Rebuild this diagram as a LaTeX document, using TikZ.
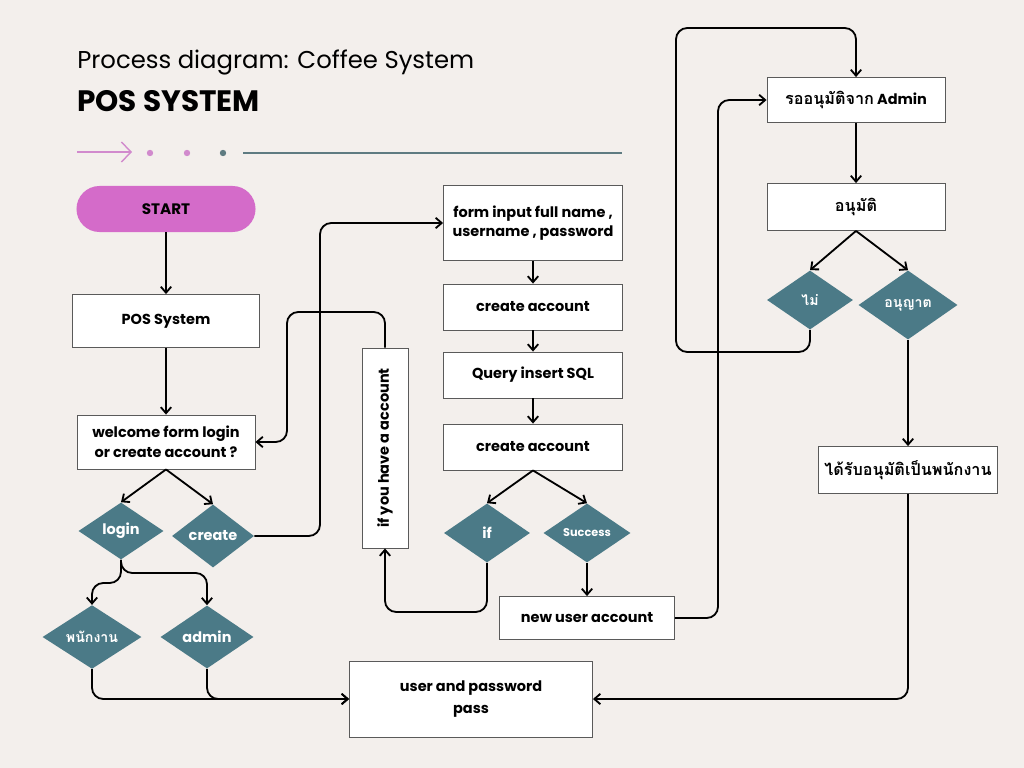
\documentclass[tikz,border=0pt]{standalone}
\usepackage{fontspec}
\setmainfont{Poppins}
\newfontfamily\thaifont[Script=Thai, Scale=1.12]{Loma}
\usetikzlibrary{shapes.geometric,arrows.meta}
\definecolor{bgcol}{HTML}{F3EFEC}
\definecolor{tealbox}{HTML}{4B7A87}
\definecolor{startpink}{HTML}{D46BC9}
\definecolor{arrowpink}{HTML}{D18ACD}
\definecolor{linegrey}{HTML}{5E7B81}
\definecolor{boxline}{HTML}{5A5A5A}

\begin{document}
\begin{tikzpicture}[
    x=0.025cm, y=-0.025cm,
    box/.style={rectangle, draw=boxline, line width=0.6pt, fill=white, font=\bfseries\fontsize{10.3}{14}\selectfont, align=center, inner sep=2pt},
    choice/.style={diamond, fill=tealbox, text=white, font=\bfseries\fontsize{10.3}{14}\selectfont, inner sep=0pt},
    startnode/.style={rectangle, rounded corners=0.575cm, fill=startpink, font=\bfseries\fontsize{10.8}{14}\selectfont, minimum width=4.475cm, minimum height=1.15cm},
    arr/.style={-{Straight Barb[length=1.5mm, width=2.6mm]}, line width=1.3pt, rounded corners=8pt},
    title/.style={anchor=west, inner sep=0pt}
]

% Background
\fill[bgcol] (0,0) rectangle (1024,768);

% Heading
\node[title, font=\fontsize{17.3}{20}\selectfont] (head) at (77,62) {Process diagram: Coffee System};
\node[title, font=\fontsize{21}{24}\selectfont\bfseries] (sub) at (77,101) {POS SYSTEM};
\draw[arrowpink, line width=1pt, -{Straight Barb[length=2.4mm, width=5mm]}] (77,152) -- (132,152);
\fill[arrowpink] (150,153) circle (3.2);
\fill[arrowpink] (187,153) circle (3.2);
\fill[linegrey] (223,153) circle (3.2);
\draw[linegrey, line width=1.3pt] (243,153) -- (622,153);

% Left column
\node[startnode] (start) at (166,209) {START};
\node[box, minimum width=4.675cm, minimum height=1.325cm] (pos) at (166,321) {POS System};
\node[box, minimum width=4.45cm, minimum height=1.35cm] (welcome) at (166,442) {welcome form login\\or create account ?};
\node[choice, minimum width=2.125cm, minimum height=1.425cm] (login) at (121,531) {login};
\node[choice, minimum width=2.05cm, minimum height=1.575cm] (create) at (213,536) {create};
\node[choice, minimum width=2.475cm, minimum height=1.575cm, font=\bfseries\small\thaifont] (staff) at (92,637) {พนักงาน};
\node[choice, minimum width=2.325cm, minimum height=1.575cm] (admin) at (207,637) {admin};

% Middle column
\node[box, minimum width=5cm, minimum height=1.15cm, rotate=90] (ifyou) at (385,448) {if you have a account};
\node[box, minimum width=4.475cm, minimum height=1.875cm] (form) at (533,223) {form input full name ,\\username , password};
\node[box, minimum width=4.475cm, minimum height=1.15cm] (create1) at (533,307) {create account};
\node[box, minimum width=4.475cm, minimum height=1.15cm] (query) at (533,375) {Query insert SQL};
\node[box, minimum width=4.475cm, minimum height=1.15cm] (create2) at (533,447) {create account};
\node[choice, minimum width=2.15cm, minimum height=1.475cm] (ifd) at (487,533) {if};
\node[choice, minimum width=2.175cm, minimum height=1.475cm, font=\bfseries\fontsize{8}{10}\selectfont] (succ) at (587,533) {Success};
\node[box, minimum width=4.375cm, minimum height=1.075cm] (newuser) at (587,618) {new user account};
\node[box, minimum width=6.075cm, minimum height=1.9cm, font=\bfseries\fontsize{10.3}{15.5}\selectfont] (user) at (471,699) {user and password\\pass};

% Right column
\node[box, minimum width=4.45cm, minimum height=1.125cm] (wait) at (856,100) {{\thaifont รออนุมัติจาก} Admin};
\node[box, minimum width=4.45cm, minimum height=1.175cm, font=\bfseries\fontsize{10.3}{14}\selectfont\thaifont] (approve) at (856,207) {อนุมัติ};
\node[choice, minimum width=2.15cm, minimum height=1.475cm, font=\bfseries\small\thaifont] (no) at (810,300) {ไม่};
\node[choice, minimum width=2.475cm, minimum height=1.725cm, font=\bfseries\small\thaifont] (yes) at (908,305) {อนุญาต};
\node[box, minimum width=4.475cm, minimum height=1.175cm, font=\bfseries\fontsize{10.3}{14}\selectfont\thaifont] (got) at (908,470) {ได้รับอนุมัติเป็นพนักงาน};

% Main flow
\draw[arr] (start) -- (pos);
\draw[arr] (pos) -- (welcome);
\draw[arr] (welcome.south) -- (login.north);
\draw[arr] (welcome.south) -- (create.north);
\draw[arr] (login.south) |- (staff.north |- 0,583) -- (staff.north);
\draw[arr] (login.south) |- (admin.north |- 0,573) -- (admin.north);
\draw[arr] (staff.south) |- (user.west);
\draw[arr] (admin.south) |- (user.west);

% Create account flow
\draw[arr] (create.east) -| (320,300) |- (form.west);
\draw[arr] (form) -- (create1);
\draw[arr] (create1) -- (query);
\draw[arr] (query) -- (create2);
\draw[arr] (create2.south) -- (ifd.north);
\draw[arr] (create2.south) -- (succ.north);
\draw[arr] (ifd.south) |- (385,612) -- (ifyou.west);
\draw[arr] (ifyou.east) |- (287,312) |- (welcome.east);
\draw[arr] (succ) -- (newuser);

% Approval flow
\draw[arr] (newuser.east) -| (718,300) |- (wait.west);
\draw[arr] (wait) -- (approve);
\draw[arr] (approve.south) -- (no.north);
\draw[arr] (approve.south) -- (yes.north);
\draw[arr] (no.south) |- (676,352) |- (856,28) -- (wait.north);
\draw[arr] (yes) -- (got);
\draw[arr] (got.south) |- (user.east);

\end{tikzpicture}
\end{document}
